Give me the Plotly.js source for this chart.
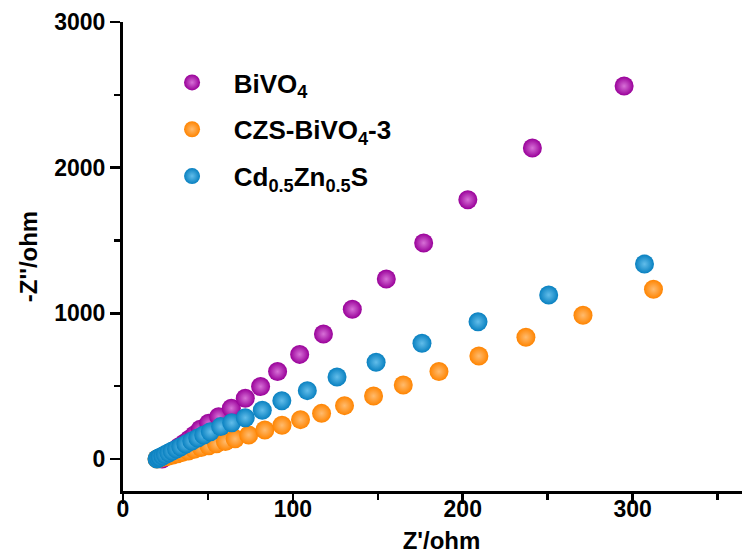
<!DOCTYPE html>
<html>
<head>
<meta charset="utf-8">
<script src="https://cdn.plot.ly/plotly-3.0.1.min.js"></script>
<style>
html,body{margin:0;padding:0;overflow:hidden;background:#fff;}
#chart{width:760px;height:557px;}
</style>
</head>
<body>
<div id="chart"></div>
<script>
// Series names (legend labels)
var seriesNames = ["BiVO<sub>4</sub>", "CZS-BiVO<sub>4</sub>-3", "Cd<sub>0.5</sub>Zn<sub>0.5</sub>S"];

// BiVO4
var bivoX = [23, 24, 25, 27, 29, 31, 33, 36, 39, 42, 45.5, 50.4, 56.3, 63.8, 72, 81, 91, 104, 118, 135, 155, 177, 203, 241, 295];
var bivoY = [0, 8, 18, 32, 48, 65, 84, 108, 135, 165, 204, 245, 290, 348, 417, 497, 600, 718, 858, 1028, 1235, 1483, 1780, 2135, 2560];

// CZS-BiVO4-3
var czsX = [20, 21.5, 23, 25, 27, 29.5, 32, 35, 38.5, 42, 46, 50.5, 55, 60.3, 66, 74, 83.5, 93.6, 104.5, 116.9, 130.4, 147.5, 165, 186, 209.5, 237.2, 270.8, 312.3];
var czsY = [0, 4, 9, 15, 21, 28, 36, 45, 55, 66, 78, 91, 104, 119, 138, 165, 199, 231, 270, 313, 366, 432, 508, 600, 707, 836, 986, 1165];

// Cd0.5Zn0.5S
var cdzsX = [20, 21, 22, 23.5, 25, 27, 29, 31.5, 34, 37, 40.5, 44, 47.5, 51.4, 57.5, 64, 72, 82, 93.5, 108.5, 126, 149, 176, 209, 250.6, 307];
var cdzsY = [0, 6, 12, 21, 30, 42, 54, 69, 84, 102, 123, 144, 165, 187, 222, 248, 283, 335, 400, 469, 563, 664, 794, 942, 1126, 1338];

// Axis ticks
var xTicks = [0, 100, 200, 300];
var yTicks = [0, 1000, 2000, 3000];

var colors = ["#990099", "#ff8400", "#0880c0"];
var centers = ["#d770d7", "#ffbb6e", "#62bdea"];

var pad = "\u00a0\u00a0\u00a0";

function trace(x, y, i) {
  return {
    x: x, y: y, type: "scatter", mode: "markers", name: pad + seriesNames[i],
    legendgroup: "g" + i,
    marker: {size: 19, color: colors[i], line: {width: 0},
             gradient: {type: "radial", color: centers[i]}},
    hoverinfo: "skip"
  };
}

var data = [trace(bivoX, bivoY, 0), trace(czsX, czsY, 1), trace(cdzsX, cdzsY, 2),
  // empty trace so that the label-only x axis (x2) is drawn
  {x: [], y: [], type: "scatter", mode: "markers", xaxis: "x2", yaxis: "y", showlegend: false, hoverinfo: "skip"}];

var family = "Liberation Sans, Arial, sans-serif";
var tickFont = {family: family, size: 23, color: "#000", weight: "bold"};
var titleFont = {family: family, size: 24, color: "#000", weight: "bold"};

var layout = {
  width: 760, height: 557,
  margin: {l: 123, r: 0, t: 22, b: 66},
  paper_bgcolor: "#fff", plot_bgcolor: "#fff",
  font: tickFont,
  showlegend: true,
  legend: {x: 0.077, y: 0.921, xanchor: "left", yanchor: "top",
           font: {family: family, size: 26, color: "#000", weight: "bold"},
           traceorder: "grouped", tracegroupgap: 10, bgcolor: "rgba(0,0,0,0)"},
  xaxis: {
    range: [0, 375], tickvals: xTicks, showticklabels: false,
    showgrid: false, zeroline: false, showline: true, linecolor: "#000", linewidth: 3,
    ticks: "outside", ticklen: 10, tickwidth: 2.5, tickcolor: "#000",
    minor: {dtick: 50, tick0: 0, ticks: "outside", ticklen: 6, tickwidth: 2.5, tickcolor: "#000", showgrid: false},
    title: {text: "Z'/ohm", font: titleFont, standoff: 30}
  },
  xaxis2: {
    overlaying: "x", anchor: "y", side: "bottom",
    range: [0, 375], tickvals: xTicks, ticktext: xTicks.map(String),
    showgrid: false, zeroline: false, showline: false, ticks: "",
    tickfont: tickFont, ticklabelstandoff: 2
  },
  yaxis: {
    range: [-220, 3000], tickvals: yTicks, ticktext: yTicks.map(String),
    showgrid: false, zeroline: false, showline: true, linecolor: "#000", linewidth: 3,
    ticks: "outside", ticklen: 10, tickwidth: 2.5, tickcolor: "#000",
    minor: {dtick: 500, tick0: 0, ticks: "outside", ticklen: 6, tickwidth: 2.5, tickcolor: "#000", showgrid: false},
    tickfont: tickFont,
    title: {text: "-Z''/ohm", font: titleFont, standoff: 10}
  }
};

Plotly.newPlot("chart", data, layout, {staticPlot: true, displayModeBar: false});
</script>
</body>
</html>
